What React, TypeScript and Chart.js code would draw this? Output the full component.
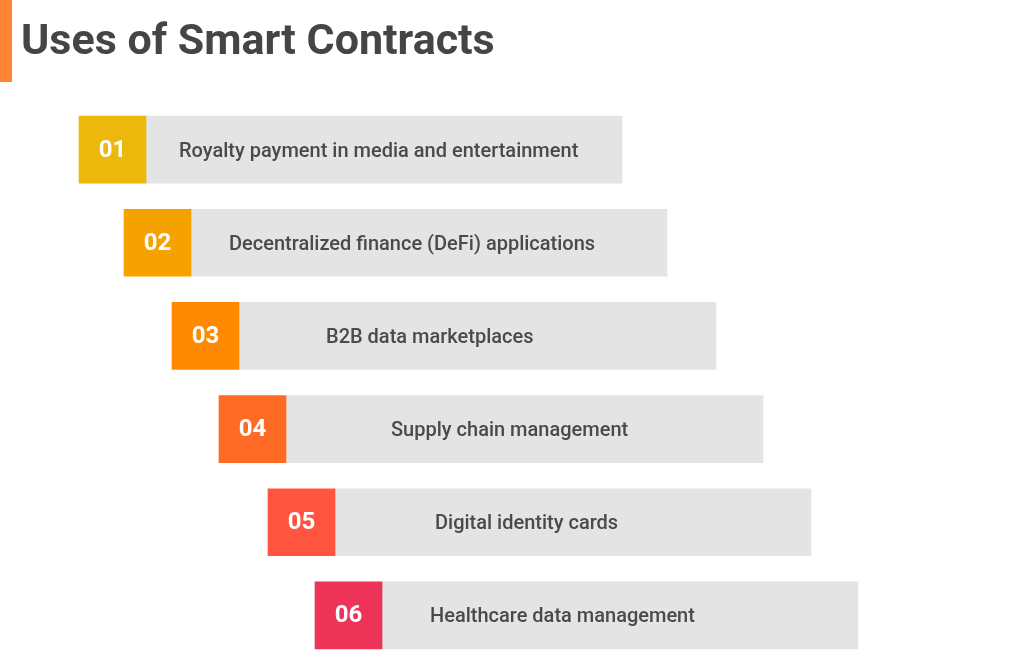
import React, { useEffect, useRef } from "react";
import { Chart, registerables } from "chart.js";

Chart.register(...registerables);

const numbers = ["01", "02", "03", "04", "05", "06"];
const labels = [
  "Royalty payment in media and entertainment",
  "Decentralized finance (DeFi) applications",
  "B2B data marketplaces",
  "Supply chain management",
  "Digital identity cards",
  "Healthcare data management",
];
const rowStart = [79, 124, 172, 219, 268, 315];
const badgeEnd = [146, 191, 239, 286, 335, 382];
const rowEnd = [622, 667, 716, 763, 811, 858];
const badgeColors = ["#ECB80C", "#F5A200", "#FF8A00", "#FF6A24", "#FF5540", "#EE3358"];

const labelX = [179, 229, 326, 391, 435, 430];

const overlay = {
  id: "overlay",
  beforeDraw(chart: any) {
    const ctx = chart.ctx;
    ctx.save();
    ctx.fillStyle = "#FFFFFF";
    ctx.fillRect(0, 0, chart.width, chart.height);
    ctx.fillStyle = "#FF8533";
    ctx.fillRect(0, 0, 12, 82);
    ctx.fillStyle = "#454545";
    ctx.font = "bold 43px Roboto";
    ctx.textBaseline = "alphabetic";
    ctx.textAlign = "left";
    ctx.fillText("Uses of Smart Contracts", 21, 54);
    ctx.restore();
  },
  afterDatasetsDraw(chart: any) {
    const ctx = chart.ctx;
    const xs = chart.scales.x;
    const badges = chart.getDatasetMeta(0).data;
    ctx.save();
    badges.forEach((el: any, i: number) => {
      const y = el.y;
      ctx.textBaseline = "middle";
      ctx.textAlign = "center";
      ctx.fillStyle = "#FFFFFF";
      ctx.font = "bold 24px Roboto";
      const cx = (xs.getPixelForValue(rowStart[i]) + xs.getPixelForValue(badgeEnd[i])) / 2;
      ctx.fillText(numbers[i], cx, y + 1);
      ctx.textAlign = "left";
      ctx.fillStyle = "#4A4A4A";
      ctx.font = "500 20px Roboto";
      ctx.fillText(labels[i], xs.getPixelForValue(labelX[i]), y + 2);
    });
    ctx.restore();
  },
};

export default function App() {
  const ref = useRef<HTMLCanvasElement>(null);
  useEffect(() => {
    document.body.style.margin = "0";
    const chart = new Chart(ref.current!, {
      type: "bar",
      data: {
        labels: numbers,
        datasets: [
          {
            data: rowStart.map((s, i) => [s, badgeEnd[i]]) as any,
            backgroundColor: badgeColors,
            grouped: false,
            barThickness: 67,
            borderWidth: 0,
          } as any,
          {
            data: badgeEnd.map((s, i) => [s, rowEnd[i]]) as any,
            backgroundColor: "#E4E4E4",
            grouped: false,
            barThickness: 67,
            borderWidth: 0,
          } as any,
        ],
      },
      options: {
        indexAxis: "y",
        animation: false,
        responsive: false,
        maintainAspectRatio: false,
        layout: { padding: { top: 103, bottom: 4, left: 0, right: 0 } },
        plugins: { legend: { display: false }, tooltip: { enabled: false }, title: { display: false } },
        scales: {
          x: { type: "linear", min: 0, max: 1024, display: false },
          y: { type: "category", display: false, offset: true },
        },
      },
      plugins: [overlay],
    });
    return () => chart.destroy();
  }, []);
  return (
    <div style={{ position: "absolute", left: 0, top: 0, width: 1024, height: 666 }}>
      <canvas ref={ref} width={1024} height={666} style={{ display: "block" }} />
    </div>
  );
}
